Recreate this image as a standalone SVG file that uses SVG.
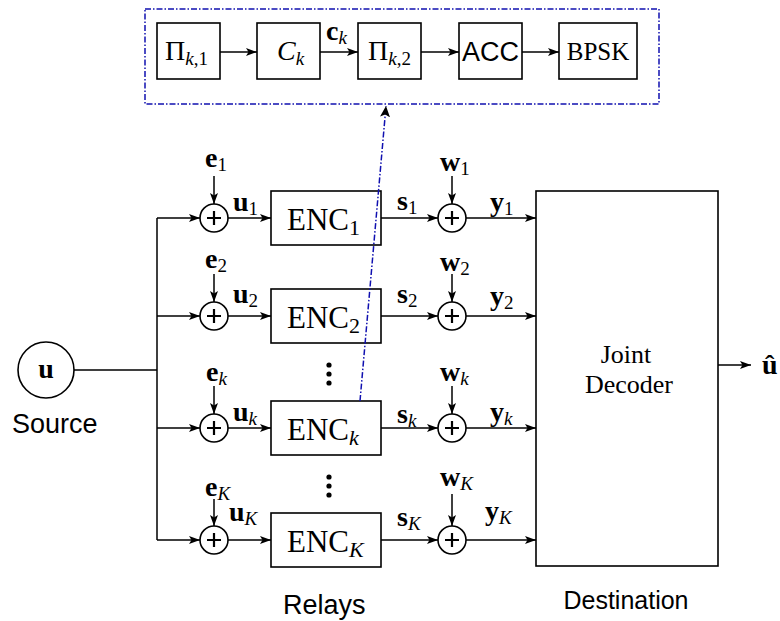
<svg xmlns="http://www.w3.org/2000/svg" width="780" height="621" viewBox="0 0 780 621">
<defs>
<marker id="ah" markerWidth="12" markerHeight="8" refX="11" refY="4" orient="auto" markerUnits="userSpaceOnUse">
<path d="M0,0 L11,4 L0,8 L2.5,4 z" fill="#000"/>
</marker>
<marker id="ahb" markerWidth="12" markerHeight="10" refX="11" refY="5" orient="auto" markerUnits="userSpaceOnUse">
<path d="M0,0 L11,5 L0,10 L2.5,5 z" fill="#000"/>
</marker>
</defs>
<style>
.box{fill:#fff;stroke:#000;stroke-width:1.6}
.ln{fill:none;stroke:#000;stroke-width:1.5}
.arr{fill:none;stroke:#000;stroke-width:1.5;marker-end:url(#ah)}
.dd{fill:none;stroke:#1010b0;stroke-width:1.5;stroke-dasharray:6 2 1.5 2}
.plus{stroke:#000;stroke-width:2.2}
.cm{font-family:"Liberation Serif","Times New Roman",serif;fill:#000}
.bv{font-family:"Liberation Serif","Times New Roman",serif;font-weight:bold;font-size:28px;fill:#000}
.sub{font-family:"Liberation Serif","Times New Roman",serif;font-weight:normal;font-size:19px}
.subi{font-family:"Liberation Serif","Times New Roman",serif;font-weight:normal;font-style:italic;font-size:19px}
.enc{font-family:"Liberation Serif","Times New Roman",serif;font-size:31px;fill:#000}
.sans{font-family:"Liberation Sans",Arial,sans-serif;fill:#000}
</style>
<rect width="780" height="621" fill="#fff"/>

<g id="expansion">
<rect x="145" y="9" width="514" height="95" class="dd"/>
</g>
<g id="pi1">
<rect x="157" y="23" width="63" height="56" class="box"/>
<text x="165" y="60" class="cm" font-size="28">Π<tspan class="subi" font-size="19" dy="5">k</tspan><tspan font-size="19">,1</tspan></text>
</g>
<g id="ck">
<rect x="257" y="23" width="63" height="56" class="box"/>
<text x="277" y="60" class="cm" font-size="28" font-style="italic">C<tspan font-size="19" dy="5">k</tspan></text>
</g>
<g id="pi2">
<rect x="358" y="23" width="63" height="56" class="box"/>
<text x="368" y="60" class="cm" font-size="28">Π<tspan class="subi" font-size="19" dy="5">k</tspan><tspan font-size="19">,2</tspan></text>
</g>
<g id="acc">
<rect x="459" y="23" width="63" height="56" class="box"/>
<text x="490.5" y="61" class="sans" font-size="27" text-anchor="middle">ACC</text>
</g>
<g id="bpsk">
<rect x="559" y="23" width="78" height="56" class="box"/>
<text x="598" y="60" class="cm" font-size="25" text-anchor="middle">BPSK</text>
</g>

<g id="source">
<circle cx="46" cy="370" r="28" class="box"/>
<text x="46" y="378" class="bv" text-anchor="middle">u</text>
<text x="12" y="433" class="sans" font-size="27">Source</text>
</g>

<g id="add1"><circle cx="214" cy="218" r="14" class="box"/><path d="M207,218h14M214,211v14" class="plus"/></g>
<g id="add2"><circle cx="214" cy="316" r="14" class="box"/><path d="M207,316h14M214,309v14" class="plus"/></g>
<g id="addk"><circle cx="214" cy="428" r="14" class="box"/><path d="M207,428h14M214,421v14" class="plus"/></g>
<g id="addK"><circle cx="214" cy="540" r="14" class="box"/><path d="M207,540h14M214,533v14" class="plus"/></g>
<g id="nadd1"><circle cx="452" cy="218" r="14" class="box"/><path d="M445,218h14M452,211v14" class="plus"/></g>
<g id="nadd2"><circle cx="452" cy="316" r="14" class="box"/><path d="M445,316h14M452,309v14" class="plus"/></g>
<g id="naddk"><circle cx="452" cy="428" r="14" class="box"/><path d="M445,428h14M452,421v14" class="plus"/></g>
<g id="naddK"><circle cx="452" cy="540" r="14" class="box"/><path d="M445,540h14M452,533v14" class="plus"/></g>

<g id="enc1"><rect x="271" y="191" width="110" height="54" class="box"/>
<text x="287" y="230" class="enc">ENC<tspan font-size="22" dy="5">1</tspan></text></g>
<g id="enc2"><rect x="271" y="289" width="110" height="54" class="box"/>
<text x="287" y="328" class="enc">ENC<tspan font-size="22" dy="5">2</tspan></text></g>
<g id="enck"><rect x="271" y="401" width="110" height="54" class="box"/>
<text x="287" y="440" class="enc">ENC<tspan font-size="22" font-style="italic" dy="5">k</tspan></text></g>
<g id="encK"><rect x="271" y="513" width="110" height="54" class="box"/>
<text x="287" y="552" class="enc">ENC<tspan font-size="22" font-style="italic" dy="5">K</tspan></text></g>

<g id="decoder">
<rect x="536" y="191" width="182" height="375" class="box"/>
<text x="626" y="363" class="cm" font-size="26" text-anchor="middle">Joint</text>
<text x="629" y="393" class="cm" font-size="26" text-anchor="middle">Decoder</text>
<text x="626" y="609" class="sans" font-size="25" text-anchor="middle">Destination</text>
</g>
<g id="relays-label">
<text x="283" y="614" class="sans" font-size="27">Relays</text>
</g>

<g id="dots" fill="#000">
<circle cx="329" cy="365" r="2.6"/><circle cx="329" cy="374" r="2.6"/><circle cx="329" cy="383" r="2.6"/>
<circle cx="329" cy="477" r="2.6"/><circle cx="329" cy="486" r="2.6"/><circle cx="329" cy="495" r="2.6"/>
</g>

<g id="connectors">
<path d="M220,52H257" class="arr"/><path d="M320,52H358" class="arr"/><path d="M421,52H459" class="arr"/><path d="M522,52H559" class="arr"/>
<path d="M74,370H157M157,218V540" class="ln"/>
<path d="M157,218H200" class="arr"/><path d="M157,316H200" class="arr"/><path d="M157,428H200" class="arr"/><path d="M157,540H200" class="arr"/>
<path d="M228,218H271" class="arr"/><path d="M228,316H271" class="arr"/><path d="M228,428H271" class="arr"/><path d="M228,540H271" class="arr"/>
<path d="M381,218H438" class="arr"/><path d="M381,316H438" class="arr"/><path d="M381,428H438" class="arr"/><path d="M381,540H438" class="arr"/>
<path d="M466,218H536" class="arr"/><path d="M466,316H536" class="arr"/><path d="M466,428H536" class="arr"/><path d="M466,540H536" class="arr"/>
<path d="M214,176V204" class="arr"/><path d="M214,274V302" class="arr"/><path d="M214,386V414" class="arr"/><path d="M214,499V526" class="arr"/>
<path d="M452,176V204" class="arr"/><path d="M452,274V302" class="arr"/><path d="M452,386V414" class="arr"/><path d="M452,494V526" class="arr"/>
<path d="M718,365H751" class="arr"/>
<path d="M360,401L386,106" class="dd" marker-end="url(#ahb)"/>
</g>

<g id="labels">
<text x="326" y="40" class="bv">c<tspan class="subi" dy="4">k</tspan></text>
<text x="205" y="167" class="bv">e<tspan class="sub" dy="4">1</tspan></text>
<text x="233" y="211" class="bv">u<tspan class="sub" dy="4">1</tspan></text>
<text x="397" y="210" class="bv">s<tspan class="sub" dy="4">1</tspan></text>
<text x="440" y="171" class="bv">w<tspan class="sub" dy="4">1</tspan></text>
<text x="490" y="211" class="bv">y<tspan class="sub" dy="4">1</tspan></text>

<text x="205" y="268" class="bv">e<tspan class="sub" dy="4">2</tspan></text>
<text x="233" y="303" class="bv">u<tspan class="sub" dy="4">2</tspan></text>
<text x="397" y="303" class="bv">s<tspan class="sub" dy="4">2</tspan></text>
<text x="440" y="271" class="bv">w<tspan class="sub" dy="4">2</tspan></text>
<text x="490" y="305" class="bv">y<tspan class="sub" dy="4">2</tspan></text>

<text x="206" y="381" class="bv">e<tspan class="subi" dy="4">k</tspan></text>
<text x="233" y="421" class="bv">u<tspan class="subi" dy="4">k</tspan></text>
<text x="397" y="423" class="bv">s<tspan class="subi" dy="4">k</tspan></text>
<text x="440" y="381" class="bv">w<tspan class="subi" dy="4">k</tspan></text>
<text x="490" y="421" class="bv">y<tspan class="subi" dy="4">k</tspan></text>

<text x="205" y="496" class="bv">e<tspan class="subi" dy="4">K</tspan></text>
<text x="229" y="521" class="bv">u<tspan class="subi" dy="4">K</tspan></text>
<text x="397" y="526" class="bv">s<tspan class="subi" dy="4">K</tspan></text>
<text x="440" y="486" class="bv">w<tspan class="subi" dy="4">K</tspan></text>
<text x="485" y="520" class="bv">y<tspan class="subi" dy="4">K</tspan></text>

<text x="762" y="374" class="bv">û</text>
</g>
</svg>
